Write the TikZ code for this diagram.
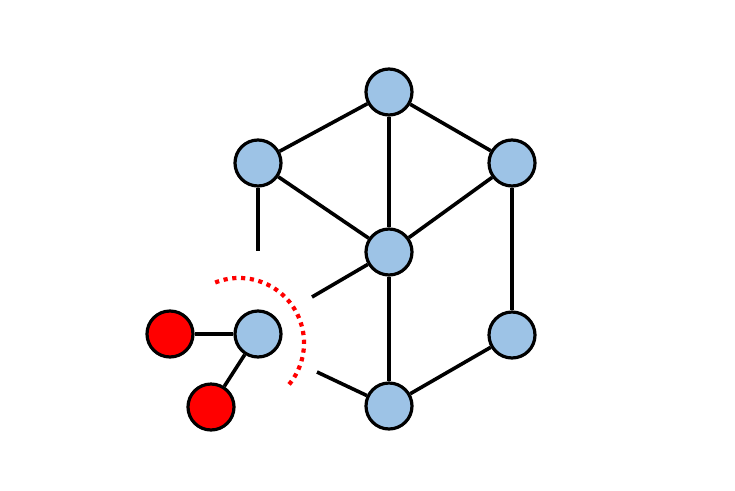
\documentclass[tikz,border=0pt]{standalone}
\definecolor{nodeblue}{HTML}{9DC3E6}
\definecolor{nodered}{HTML}{FF0000}
\begin{document}
\begin{tikzpicture}[x=1pt,y=-1pt,
  bluenode/.style={circle,draw=black,line width=3.2pt,fill=nodeblue,minimum size=46pt,inner sep=0pt},
  rednode/.style={circle,draw=black,line width=3.2pt,fill=nodered,minimum size=46pt,inner sep=0pt},
  edge/.style={draw=black,line width=3.6pt},
  shieldarc/.style={draw=nodered,line width=4.2pt,dash pattern=on 4.2pt off 4.6pt}]
\useasboundingbox[fill=white] (0,0) rectangle (735,490);
\node[bluenode] (top) at (389,92) {};
\node[bluenode] (ul) at (258,163) {};
\node[bluenode] (ur) at (512,163) {};
\node[bluenode] (c) at (389,252) {};
\node[bluenode] (lr) at (512,335) {};
\node[bluenode] (b) at (389,406) {};
\node[bluenode] (bl) at (258,334) {};
\node[rednode] (rl) at (170,334) {};
\node[rednode] (rb) at (211,407) {};
\coordinate (s1) at (258,251);
\coordinate (s2) at (312,297);
\coordinate (s3) at (317,372);
\coordinate (arcstart) at (215.2,282.5);
\draw[edge] (top) -- (ul);
\draw[edge] (top) -- (ur);
\draw[edge] (top) -- (c);
\draw[edge] (ul) -- (c);
\draw[edge] (ur) -- (c);
\draw[edge] (ur) -- (lr);
\draw[edge] (c) -- (b);
\draw[edge] (lr) -- (b);
\draw[edge] (ul) -- (s1);
\draw[edge] (c) -- (s2);
\draw[edge] (s3) -- (b);
\draw[edge] (bl) -- (rl);
\draw[edge] (bl) -- (rb);
\draw[shieldarc] (arcstart) arc[start angle=-111.5,end angle=41.6,radius=65];
\end{tikzpicture}
\end{document}
